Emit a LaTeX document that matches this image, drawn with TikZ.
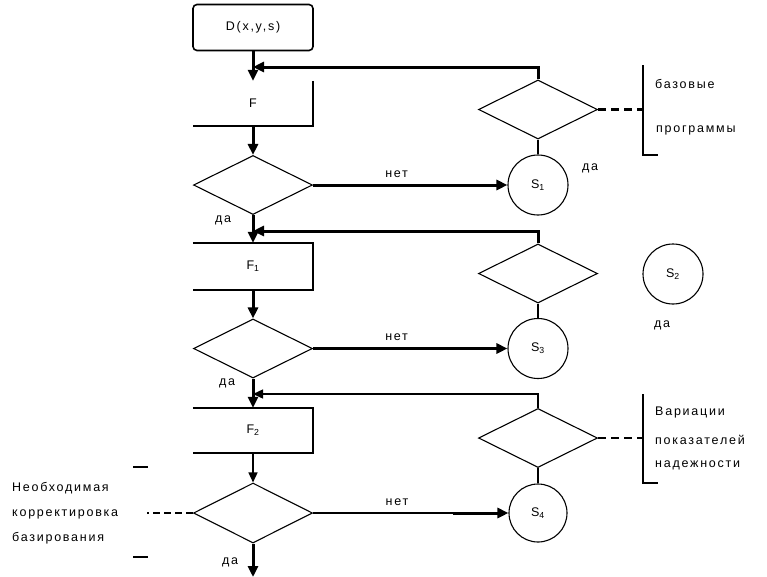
\documentclass[tikz,border=0pt]{standalone}
\usepackage{fontspec}
\setmainfont{Liberation Sans}[LetterSpace=14]
\usepackage{tikz}
\usetikzlibrary{shapes,shapes.geometric,arrows.meta}

\tikzset{
	blk/.style={minimum width=120pt,minimum height=46pt,inner sep=0pt},
	cond/.style={diamond,draw,line width=1.1pt,minimum width=119pt,minimum height=59pt,inner sep=0pt},
	sig/.style={circle,draw,line width=1.1pt,minimum size=60pt,inner sep=0pt},
	flow/.style={line width=3pt,-{Triangle[length=11pt,width=10pt]}},
	slim/.style={line width=1.4pt,-{Triangle[length=10pt,width=9pt]}},
	rim/.style={line width=2pt},
	txt/.style={anchor=west,inner sep=0pt}
}

\begin{document}
\begin{tikzpicture}[x=1pt,y=-1pt,font=\fontsize{12.5}{15}\selectfont]
	\useasboundingbox (0,0) rectangle (767,576);
	\node[blk,draw,line width=1.6pt,rounded corners=4pt] (d) at (253,27.5) {D(x,y,s)};
	\node[blk,minimum height=45pt] (f) at (253,103.5) {F};
	\node[blk,minimum height=47pt] (f1) at (253,266.5) {F\textsubscript{1}};
	\node[blk,minimum height=45pt] (f2) at (253,430.5) {F\textsubscript{2}};
	\node[cond] (c) at (253,185) {};
	\node[cond] (c1) at (253,348.5) {};
	\node[cond,minimum height=60pt] (c2) at (253,513) {};
	\node[cond] (r) at (538,109.5) {};
	\node[cond] (r1) at (538,273.5) {};
	\node[cond] (r2) at (538,438) {};
	\node[sig] (s1) at (538,185) {S\textsubscript{1}};
	\node[sig] (s3) at (538,348.5) {S\textsubscript{3}};
	\node[sig,minimum size=58pt] (s4) at (538,513) {S\textsubscript{4}};
	\node[sig] (s2) at (673,274) {S\textsubscript{2}};
	\coordinate (j) at (253,67);
	\coordinate (j1) at (253,231);
	\coordinate (j2) at (253,394);
	\coordinate (b) at (643,109.5);
	\coordinate (b2) at (643,438);
	\coordinate (k) at (453,513);
	\coordinate (w) at (147,513);
	\coordinate (e) at (253,577);

	\draw[rim] (f.north east) -- (f.south east) -- (f.south west);
	\draw[rim] (f1.north west) -- (f1.north east) -- (f1.south east) -- (f1.south west);
	\draw[rim] (f2.north west) -- (f2.north east) -- (f2.south east) -- (f2.south west);

	\draw[flow] (d) -- (f);
	\draw[flow] (r) |- (j);
	\draw[flow] (f) -- (c);
	\draw[flow] (c) -- (s1) node[pos=.43,above=3pt] {нет};
	\draw[rim] (r) -- (s1);
	\draw[flow] (c) -- (f1);
	\draw[flow] (r1) |- (j1);
	\draw[flow] (f1) -- (c1);
	\draw[flow] (c1) -- (s3) node[pos=.43,above=3pt] {нет};
	\draw[rim] (r1) -- (s3);
	\draw[flow] (c1) -- (f2);
	\draw[slim] (r2) |- (j2);
	\draw[slim] (f2) -- (c2);
	\draw[line width=1.4pt] (c2) -- (k) node[pos=.6,above=3pt] {нет};
	\draw[flow] (k) -- (s4);
	\draw[rim] (r2) -- (s4);
	\draw[flow] (c2) -- (e);

	\draw[line width=3pt,dash pattern=on 8pt off 5pt] (r) -- (b);
	\draw[line width=1.1pt,dash pattern=on 8pt off 5pt] (r2) -- (b2);
	\draw[line width=1.1pt,dash pattern=on 7pt off 4pt] (c2) -- (w);
	\draw[line width=1.4pt] (643,65) -- (643,155) -- (658,155);
	\draw[line width=1.4pt] (643,394) -- (643,483) -- (658,483);
	\draw[line width=1.4pt] (133,467) -- (148,467);
	\draw[line width=1.4pt] (133,557) -- (148,557);

	\node (y0) at (223,220) {да};
	\node (y1) at (227,383) {да};
	\node (y2) at (230,562) {да};
	\node (y3) at (590,168) {да};
	\node (y4) at (662,325) {да};
	\node[txt] (t1) at (655,84) {базовые};
	\node[txt] (t2) at (656,130) {программы};
	\node[txt] (t3) at (655,412) {Вариации};
	\node[txt] (t4) at (655,440) {показателей};
	\node[txt] (t5) at (655,465) {надежности};
	\node[txt] (t6) at (12,488) {Необходимая};
	\node[txt] (t7) at (12,514) {корректировка};
	\node[txt] (t8) at (12,538) {базирования};
\end{tikzpicture}
\end{document}
